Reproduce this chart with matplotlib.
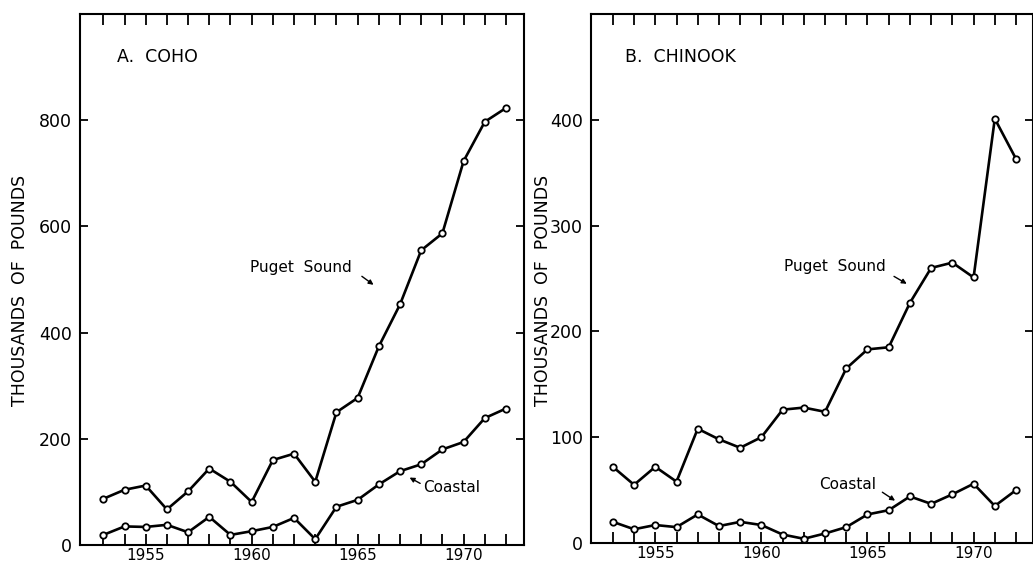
import matplotlib
matplotlib.use("Agg")
import matplotlib.pyplot as plt

years = list(range(1953, 1973))

coho_puget = [87, 104, 112, 67, 101, 144, 119, 81, 160, 172, 119, 250, 277, 374, 453, 555, 587, 723, 797, 823]
coho_coastal = [19, 35, 34, 38, 24, 53, 19, 26, 34, 51, 11, 72, 85, 114, 139, 152, 180, 194, 239, 257]

chinook_puget = [72, 55, 72, 58, 108, 98, 90, 100, 126, 128, 124, 165, 183, 185, 227, 260, 265, 251, 401, 363]
chinook_coastal = [20, 13, 17, 15, 27, 16, 20, 17, 8, 4, 9, 15, 27, 31, 44, 37, 46, 56, 35, 50]

coho_yticks = [0, 200, 400, 600, 800]
chinook_yticks = [0, 100, 200, 300, 400]
xtick_labels = [1955, 1960, 1965, 1970]

plt.rcParams['font.family'] = ['DejaVu Sans']
FS = 12.5

fig = plt.figure(figsize=(10.33, 5.67), dpi=100)
axA = fig.add_axes([80/1033, 1-545/567, 444/1033, 531/567])
axB = fig.add_axes([591/1033, 1-543/567, 442/1033, 529/567])

def style(ax, ylim, yticks):
    ax.set_xlim(1951.9, 1972.85)
    ax.set_ylim(*ylim)
    ax.set_yticks(yticks)
    ax.set_yticklabels([str(v) for v in yticks])
    ax.set_xticks(years)
    ax.set_xticklabels([str(y) if y in xtick_labels else "" for y in years])
    ax.tick_params(axis='both', direction='in', width=1.3, labelsize=FS, pad=6,
                   top=True, right=True, color='black')
    ax.tick_params(axis='x', length=8, labelsize=11, pad=2.5)
    ax.tick_params(axis='y', length=6)
    for s in ax.spines.values():
        s.set_linewidth(1.5)

def plot_series(ax, vals):
    ax.plot(years, vals, color='black', lw=1.9, marker='o', ms=4.6,
            mfc='white', mec='black', mew=1.3, zorder=3, clip_on=False)

style(axA, (0, 1000), coho_yticks)
plot_series(axA, coho_puget)
plot_series(axA, coho_coastal)
axA.text(0.083, 0.919, "A.  COHO", transform=axA.transAxes, fontsize=FS,
         ha='left', va='center')
axA.text(1962.3, 523, "Puget  Sound", fontsize=11, ha='center', va='center')
axA.annotate("", xy=(1965.75, 490), xytext=(1965.2, 506),
             arrowprops=dict(arrowstyle='-|>', color='black', lw=1.0,
                             mutation_scale=7, shrinkA=0, shrinkB=0))
axA.text(1968.1, 109, "Coastal", fontsize=11, ha='left', va='center')
axA.annotate("", xy=(1967.45, 127), xytext=(1967.95, 116),
             arrowprops=dict(arrowstyle='-|>', color='black', lw=1.0,
                             mutation_scale=7, shrinkA=0, shrinkB=0))

style(axB, (0, 500), chinook_yticks)
axB.set_xlim(1951.97, 1972.8)
plot_series(axB, chinook_puget)
plot_series(axB, chinook_coastal)
axB.text(0.077, 0.919, "B.  CHINOOK", transform=axB.transAxes, fontsize=FS,
         ha='left', va='center')
axB.text(1963.45, 261, "Puget  Sound", fontsize=11, ha='center', va='center')
axB.annotate("", xy=(1966.85, 245), xytext=(1966.25, 252),
             arrowprops=dict(arrowstyle='-|>', color='black', lw=1.0,
                             mutation_scale=7, shrinkA=0, shrinkB=0))
axB.text(1964.05, 55, "Coastal", fontsize=11, ha='center', va='center')
axB.annotate("", xy=(1966.3, 40), xytext=(1965.7, 48),
             arrowprops=dict(arrowstyle='-|>', color='black', lw=1.0,
                             mutation_scale=7, shrinkA=0, shrinkB=0))

fig.text(20/1033, 1-290/567, "THOUSANDS  OF  POUNDS", rotation=90,
         fontsize=FS, ha='center', va='center')
fig.text(543/1033, 1-290/567, "THOUSANDS  OF  POUNDS", rotation=90,
         fontsize=FS, ha='center', va='center')

fig.savefig("out.png", dpi=100)
